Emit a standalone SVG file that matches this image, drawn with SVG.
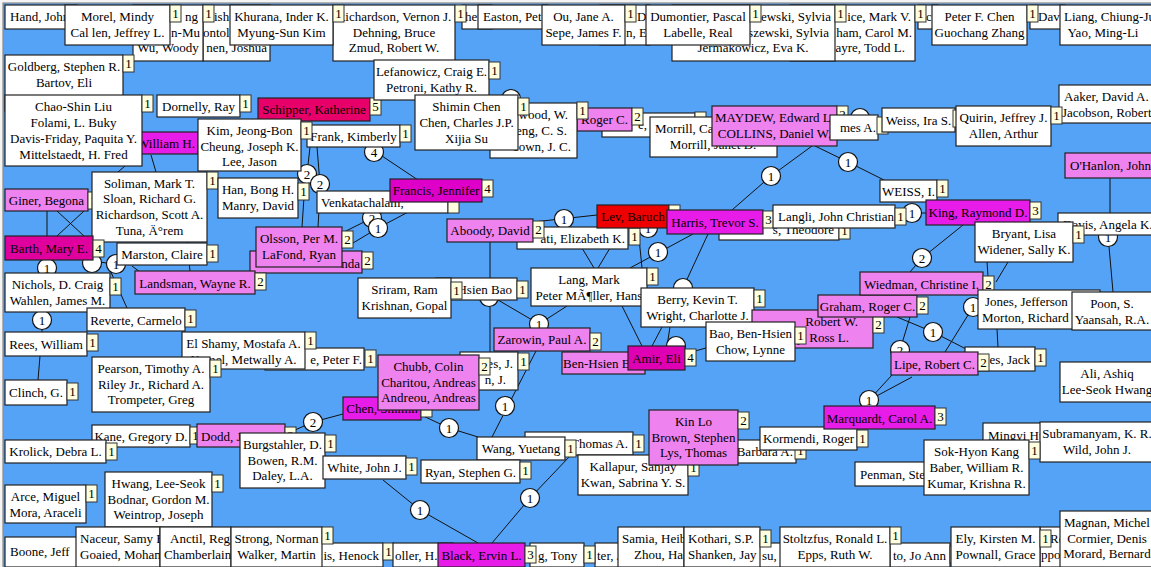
<svg xmlns="http://www.w3.org/2000/svg" width="1151" height="567" viewBox="0 0 1151 567">
<style>
.n rect{fill:#fff;stroke:#222;stroke-width:1.2}
.n rect.p{fill:#ee82ee}
.n rect.m{fill:#e81ce8}
.n rect.s{fill:#e8006a}
.n rect.r{fill:#ee0000}
.n rect.bm{fill:#e0009e}
.n rect.fr{fill:#de00c8}
.n rect.am{fill:#e000b4}
.n rect.bd{fill:#ffffe0;stroke:#333;stroke-width:1}
text{font-family:"Liberation Serif","Times New Roman",serif;font-size:13px;fill:#000}
.c{text-anchor:middle}
.e{text-anchor:end}
#edges line,#edges polyline{stroke:#111;stroke-width:1;fill:none}
#edges circle{fill:#fff;stroke:#111;stroke-width:1.2}
</style>
<rect x="0" y="0" width="1151" height="567" fill="#f4f4f4"/>
<rect x="3" y="3" width="1160" height="570" fill="#55a3f6" stroke="#8a8a8a" stroke-width="1.2"/>

<g id="edges">
<line x1="125" y1="166" x2="118" y2="172"/>
<line x1="151" y1="155" x2="156" y2="172"/>
<line x1="47" y1="211" x2="47" y2="236"/>
<line x1="57" y1="211" x2="84" y2="236"/>
<line x1="84" y1="211" x2="57" y2="236"/>
<line x1="47" y1="260" x2="47" y2="273"/>
<line x1="42" y1="312" x2="42" y2="332"/>
<line x1="40" y1="356" x2="38" y2="380"/>
<line x1="100" y1="262" x2="125" y2="266"/>
<line x1="110" y1="270" x2="127" y2="308"/>
<line x1="132" y1="266" x2="140" y2="272"/>
<line x1="187" y1="242" x2="190" y2="271"/>
<line x1="310" y1="147" x2="307" y2="174"/>
<line x1="317" y1="147" x2="320" y2="184"/>
<line x1="305" y1="182" x2="302" y2="227"/>
<line x1="320" y1="192" x2="318" y2="227"/>
<polyline points="342,233 372,218 405,200"/>
<polyline points="348,246 378,228 412,210"/>
<line x1="370" y1="148" x2="418" y2="180"/>
<line x1="490" y1="242" x2="490" y2="352"/>
<polyline points="498,300 539,324 567,306"/>
<line x1="533" y1="222" x2="597" y2="215"/>
<line x1="582" y1="248" x2="594" y2="268"/>
<line x1="610" y1="248" x2="598" y2="268"/>
<line x1="638" y1="228" x2="642" y2="268"/>
<line x1="630" y1="268" x2="693" y2="234"/>
<line x1="708" y1="234" x2="683" y2="288"/>
<polyline points="732,210 771,176 812,146"/>
<polyline points="815,146 848,162 884,180"/>
<line x1="622" y1="306" x2="642" y2="346"/>
<line x1="662" y1="327" x2="652" y2="346"/>
<line x1="670" y1="327" x2="667" y2="346"/>
<line x1="695" y1="351" x2="706" y2="348"/>
<line x1="536" y1="351" x2="492" y2="437"/>
<polyline points="421,415 449,428 478,437"/>
<polyline points="343,414 313,422 295,430"/>
<polyline points="383,480 420,510 478,543"/>
<polyline points="492,543 530,498 570,456"/>
<polyline points="897,317 933,332 968,350"/>
<line x1="910" y1="317" x2="900" y2="350"/>
<polyline points="945,352 973,307 985,295"/>
<polyline points="963,225 922,258 910,272"/>
<line x1="987" y1="262" x2="989" y2="290"/>
<line x1="1008" y1="262" x2="996" y2="282"/>
<line x1="997" y1="329" x2="998" y2="347"/>
<line x1="1110" y1="178" x2="1110" y2="213"/>
<line x1="1108" y1="235" x2="1113" y2="292"/>
<line x1="869" y1="400" x2="892" y2="375"/>
<line x1="871" y1="399" x2="912" y2="377"/>
<line x1="869" y1="400" x2="869" y2="406"/>
<line x1="906" y1="213" x2="926" y2="213"/>
<circle cx="511" cy="99" r="9.5"/>
<circle cx="307" cy="174" r="9.5"/><text class="c" x="307" y="178.5">2</text>
<circle cx="320" cy="184" r="9.5"/><text class="c" x="320" y="188.5">2</text>
<circle cx="374" cy="152" r="9.5"/><text class="c" x="374" y="156.5">4</text>
<circle cx="372" cy="218" r="9.5"/><text class="c" x="372" y="222.5">2</text>
<circle cx="378" cy="228" r="9.5"/><text class="c" x="378" y="232.5">1</text>
<circle cx="47" cy="268" r="9.5"/><text class="c" x="47" y="272.5">1</text>
<circle cx="92" cy="263" r="9.5"/>
<circle cx="116" cy="264" r="9.5"/><text class="c" x="116" y="268.5">1</text>
<circle cx="42" cy="320" r="9.5"/><text class="c" x="42" y="324.5">1</text>
<circle cx="564" cy="219" r="9.5"/><text class="c" x="564" y="223.5">1</text>
<circle cx="648" cy="228" r="9.5"/><text class="c" x="648" y="232.5">1</text>
<circle cx="658" cy="252" r="9.5"/><text class="c" x="658" y="256.5">1</text>
<circle cx="683" cy="288" r="9.5"/>
<circle cx="676" cy="346" r="9.5"/>
<circle cx="771" cy="176" r="9.5"/><text class="c" x="771" y="180.5">1</text>
<circle cx="848" cy="162" r="9.5"/><text class="c" x="848" y="166.5">1</text>
<circle cx="860" cy="118" r="9.5"/>
<circle cx="489" cy="297" r="9.5"/>
<circle cx="539" cy="324" r="9.5"/><text class="c" x="539" y="328.5">1</text>
<circle cx="505" cy="406" r="9.5"/><text class="c" x="505" y="410.5">1</text>
<circle cx="449" cy="428" r="9.5"/><text class="c" x="449" y="432.5">1</text>
<circle cx="313" cy="422" r="9.5"/><text class="c" x="313" y="426.5">2</text>
<circle cx="420" cy="510" r="9.5"/><text class="c" x="420" y="514.5">1</text>
<circle cx="530" cy="498" r="9.5"/><text class="c" x="530" y="502.5">1</text>
<circle cx="912" cy="213" r="9.5"/><text class="c" x="912" y="217.5">1</text>
<circle cx="922" cy="258" r="9.5"/><text class="c" x="922" y="262.5">2</text>
<circle cx="933" cy="332" r="9.5"/><text class="c" x="933" y="336.5">1</text>
<circle cx="973" cy="307" r="9.5"/><text class="c" x="973" y="311.5">1</text>
<circle cx="900" cy="350" r="9.5"/><text class="c" x="900" y="354.5">2</text>
<circle cx="869" cy="400" r="9.5"/><text class="c" x="869" y="404.5">1</text>
<circle cx="1108" cy="237" r="9.5"/><text class="c" x="1108" y="241.5">1</text>
</g>

<g class="n">
<g id="hand"><rect x="5" y="5" width="72" height="24"/><text x="10" y="21">Hand, John</text></g>
<g id="n-joshua"><rect x="203" y="5" width="67" height="56"/><text x="214" y="21">ish</text><text x="203" y="37">ontol</text><text class="e" x="267" y="52">nen, Joshua</text></g>
<g id="n-woody"><rect x="133" y="5" width="70" height="56"/><text class="e" x="198" y="21">ng</text><text class="e" x="200" y="37">n-Mu</text><text class="c" x="168" y="52">Wu, Woody</text><rect class="bd" x="203" y="5" width="11" height="17"/><text class="c" x="208.5" y="18">1</text></g>
<g id="morel"><rect x="65" y="5" width="105" height="40"/><text class="c" x="117.5" y="21">Morel, Mindy</text><text class="c" x="117.5" y="37">Cal len, Jeffrey L.</text><rect class="bd" x="170" y="5" width="11" height="17"/><text class="c" x="175.5" y="18">1</text></g>
<g id="her"><rect x="462" y="5" width="30" height="24"/><text x="465" y="21">her</text></g>
<g id="richardson"><rect x="333" y="5" width="122" height="56"/><text class="c" x="394" y="21">Richardson, Vernon J.</text><text class="c" x="394" y="37">Dehning, Bruce</text><text class="c" x="394" y="52">Zmud, Robert W.</text><rect class="bd" x="455" y="5" width="11" height="17"/><text class="c" x="460.5" y="18">1</text></g>
<g id="khurana"><rect x="230" y="5" width="103" height="40"/><text class="c" x="281.5" y="21">Khurana, Inder K.</text><text class="c" x="281.5" y="37">Myung-Sun Kim</text><rect class="bd" x="333" y="5" width="11" height="17"/><text class="c" x="338.5" y="18">1</text></g>
<g id="easton"><rect x="478" y="5" width="70" height="24"/><text x="483" y="21">Easton, Pet</text></g>
<g id="n-d"><rect x="600" y="5" width="50" height="40"/><text x="637" y="21">D</text><text x="626" y="37">n, E</text></g>
<g id="ou"><rect x="542" y="5" width="83" height="40"/><text class="c" x="583.5" y="21">Ou, Jane A.</text><text class="c" x="583.5" y="37">Sepe, James F.</text><rect class="bd" x="625" y="5" width="11" height="17"/><text class="c" x="630.5" y="18">1</text></g>
<g id="n-c"><rect x="918" y="5" width="20" height="24"/><text x="926" y="21">c</text></g>
<g id="n-mark"><rect x="790" y="5" width="125" height="56"/><text class="e" x="911" y="21">ice, Mark V.</text><text class="e" x="912" y="37">ham, Carol M.</text><text class="e" x="905" y="52">ayre, Todd L.</text><rect class="bd" x="915" y="5" width="11" height="17"/><text class="c" x="920.5" y="18">1</text></g>
<g id="n-sylvia"><rect x="672" y="5" width="163" height="56"/><text class="e" x="831" y="21">zewski, Sylvia</text><text class="e" x="829" y="37">szewski, Sylvia</text><text class="c" x="753" y="52">Jermakowicz, Eva K.</text><rect class="bd" x="835" y="5" width="11" height="17"/><text class="c" x="840.5" y="18">1</text></g>
<g id="dumontier"><rect x="646" y="5" width="104" height="40"/><text class="c" x="698" y="21">Dumontier, Pascal</text><text class="c" x="698" y="37">Labelle, Real</text><rect class="bd" x="750" y="5" width="11" height="17"/><text class="c" x="755.5" y="18">1</text></g>
<g id="davi"><rect x="1030" y="5" width="35" height="24"/><text x="1038" y="21">Davi</text></g>
<g id="peterchen"><rect x="932" y="5" width="95" height="40"/><text class="c" x="979.5" y="21">Peter F. Chen</text><text class="c" x="979.5" y="37">Guochang Zhang</text><rect class="bd" x="1027" y="5" width="11" height="17"/><text class="c" x="1032.5" y="18">1</text></g>
<g id="liang"><rect x="1060" y="5" width="100" height="40"/><text x="1064" y="21">Liang, Chiung-Ju</text><text class="c" x="1103" y="37">Yao, Ming-Li</text></g>

<g id="goldberg"><rect x="5" y="55" width="118" height="56"/><text class="c" x="64" y="71">Goldberg, Stephen R.</text><text class="c" x="64" y="87">Bartov, Eli</text><rect class="bd" x="123" y="55" width="11" height="17"/><text class="c" x="128.5" y="68">1</text></g>
<g id="william"><rect class="m" x="100" y="132" width="98" height="22"/><text class="e" x="195" y="148">William H.</text></g>
<g id="chao"><rect x="5" y="95" width="137" height="71"/><text class="c" x="73.5" y="111">Chao-Shin Liu</text><text class="c" x="73.5" y="127">Folami, L. Buky</text><text class="c" x="73.5" y="143">Davis-Friday, Paquita Y.</text><text class="c" x="73.5" y="159">Mittelstaedt, H. Fred</text><rect class="bd" x="142" y="95" width="11" height="17"/><text class="c" x="147.5" y="108">1</text></g>
<g id="dornelly"><rect x="157" y="95" width="83" height="22"/><text class="c" x="198.5" y="111">Dornelly, Ray</text><rect class="bd" x="240" y="95" width="11" height="17"/><text class="c" x="245.5" y="108">1</text></g>
<g id="schipper"><rect class="s" x="258" y="98" width="112" height="23"/><text class="c" x="314" y="114">Schipper, Katherine</text><rect class="bd" x="370" y="98" width="11" height="17"/><text class="c" x="375.5" y="111">5</text></g>
<g id="frank"><rect x="307" y="125" width="93" height="22"/><text class="c" x="353.5" y="141">Frank, Kimberly</text><rect class="bd" x="400" y="125" width="11" height="17"/><text class="c" x="405.5" y="138">1</text></g>
<g id="kim"><rect x="198" y="119" width="103" height="52"/><text class="c" x="249.5" y="135">Kim, Jeong-Bon</text><text class="c" x="249.5" y="151">Cheung, Joseph K.</text><text class="c" x="249.5" y="166">Lee, Jason</text><rect class="bd" x="301" y="122" width="11" height="17"/><text class="c" x="306.5" y="135">1</text></g>
<g id="lefanowicz"><rect x="374" y="60" width="115" height="40"/><text class="c" x="431.5" y="76">Lefanowicz, Craig E.</text><text class="c" x="431.5" y="92">Petroni, Kathy R.</text><rect class="bd" x="489" y="62" width="11" height="17"/><text class="c" x="494.5" y="75">1</text></g>
<g id="n-e"><rect x="602" y="113" width="93" height="24"/><text x="638" y="129">e,</text><rect class="bd" x="695" y="112" width="11" height="17"/></g>
<g id="rogerc"><rect class="p" x="577" y="108" width="55" height="23"/><text class="e" x="628" y="124">Roger C.</text><rect class="bd" x="632" y="108" width="11" height="17"/><text class="c" x="637.5" y="121">2</text></g>
<g id="wood"><rect x="490" y="103" width="87" height="55"/><text class="e" x="568" y="119">wood, W.</text><text class="e" x="567" y="135">eng, C. S.</text><text class="e" x="571" y="151">eown, J. C.</text><rect class="bd" x="577" y="102" width="11" height="17"/><text class="c" x="582.5" y="115">1</text></g>
<g id="shimin"><rect x="415" y="95" width="103" height="55"/><text class="c" x="466.5" y="111">Shimin Chen</text><text class="c" x="466.5" y="127">Chen, Charles J.P.</text><text class="c" x="466.5" y="143">Xijia Su</text><rect class="bd" x="518" y="98" width="11" height="17"/><text class="c" x="523.5" y="111">1</text></g>
<g id="morrill"><rect x="650" y="117" width="127" height="40"/><text x="655" y="133">Morrill, Ca</text><text class="c" x="713" y="149">Morrill, Janet D.</text></g>
<g id="maydew"><rect class="p" x="712" y="106" width="125" height="40"/><text class="c" x="774.5" y="122">MAYDEW, Edward L.</text><text class="c" x="774.5" y="138">COLLINS, Daniel W.</text><rect class="bd" x="837" y="106" width="11" height="17"/><text class="c" x="842.5" y="119">2</text></g>
<g id="jamesa"><rect x="830" y="115" width="48" height="25"/><text class="e" x="876" y="132">mes A.</text><rect class="bd" x="877" y="117" width="11" height="17"/></g>
<g id="weiss-ira"><rect x="882" y="108" width="73" height="24"/><text class="c" x="918.5" y="125">Weiss, Ira S.</text><rect class="bd" x="953" y="110" width="11" height="17"/></g>
<g id="aaker"><rect x="1059" y="85" width="95" height="38"/><text x="1064" y="101">Aaker, David A.</text><text x="1062" y="117">Jacobson, Robert</text></g>
<g id="quirin"><rect x="956" y="106" width="95" height="40"/><text class="c" x="1003.5" y="122">Quirin, Jeffrey J.</text><text class="c" x="1003.5" y="138">Allen, Arthur</text><rect class="bd" x="1051" y="107" width="11" height="17"/><text class="c" x="1056.5" y="120">1</text></g>
<g id="ohanlon"><rect class="p" x="1065" y="153" width="92" height="25"/><text x="1070" y="170">O'Hanlon, John</text></g>
<g id="weiss-i"><rect x="880" y="180" width="57" height="22"/><text class="c" x="908.5" y="196">WEISS, I.</text><rect class="bd" x="937" y="180" width="11" height="17"/><text class="c" x="942.5" y="193">1</text></g>

<g id="giner"><rect class="p" x="5" y="189" width="83" height="22"/><text class="c" x="46.5" y="205">Giner, Begona</text><rect class="bd" x="88" y="192" width="11" height="17"/><text class="c" x="93.5" y="205">1</text></g>
<g id="soliman"><rect x="92" y="172" width="115" height="70"/><text class="c" x="149.5" y="188">Soliman, Mark T.</text><text class="c" x="149.5" y="203">Sloan, Richard G.</text><text class="c" x="149.5" y="219">Richardson, Scott A.</text><text class="c" x="149.5" y="235">Tuna, Ä°rem</text><rect class="bd" x="207" y="172" width="11" height="17"/><text class="c" x="212.5" y="185">1</text></g>
<g id="han"><rect x="218" y="178" width="80" height="40"/><text class="c" x="258" y="194">Han, Bong H.</text><text class="c" x="258" y="210">Manry, David</text><rect class="bd" x="298" y="183" width="11" height="17"/><text class="c" x="303.5" y="196">1</text></g>
<g id="venkatachalam"><rect x="317" y="191" width="131" height="22"/><text x="321" y="207">Venkatachalam,</text><rect class="bd" x="448" y="196" width="11" height="17"/></g>
<g id="francis"><rect class="fr" x="390" y="179" width="92" height="23"/><text class="c" x="436" y="195">Francis, Jennifer</text><rect class="bd" x="482" y="180" width="11" height="17"/><text class="c" x="487.5" y="193">4</text></g>
<g id="barth"><rect class="bm" x="5" y="236" width="88" height="24"/><text class="c" x="49" y="253">Barth, Mary E.</text><rect class="bd" x="93" y="240" width="11" height="17"/><text class="c" x="98.5" y="253">4</text></g>
<g id="marston"><rect x="117" y="243" width="90" height="22"/><text class="c" x="162" y="259">Marston, Claire</text><rect class="bd" x="207" y="245" width="11" height="17"/><text class="c" x="212.5" y="258">1</text></g>
<g id="n-nda"><rect class="p" x="250" y="251" width="112" height="22"/><text class="e" x="360" y="268">nda</text><rect class="bd" x="362" y="252" width="11" height="17"/><text class="c" x="367.5" y="265">2</text></g>
<g id="olsson"><rect class="p" x="256" y="227" width="86" height="40"/><text class="c" x="299" y="243">Olsson, Per M.</text><text class="c" x="299" y="259">LaFond, Ryan</text><rect class="bd" x="342" y="231" width="11" height="17"/><text class="c" x="347.5" y="244">2</text></g>
<g id="landsman"><rect class="p" x="135" y="271" width="120" height="23"/><text class="c" x="195" y="288">Landsman, Wayne R.</text><rect class="bd" x="255" y="273" width="11" height="17"/><text class="c" x="260.5" y="286">2</text></g>
<g id="nichols"><rect x="5" y="273" width="105" height="39"/><text class="c" x="57.5" y="289">Nichols, D. Craig</text><text class="c" x="57.5" y="305">Wahlen, James M.</text><rect class="bd" x="110" y="278" width="11" height="17"/><text class="c" x="115.5" y="291">1</text></g>
<g id="reverte"><rect x="87" y="308" width="98" height="23"/><text class="c" x="136" y="325">Reverte, Carmelo</text><rect class="bd" x="185" y="310" width="11" height="17"/><text class="c" x="190.5" y="323">1</text></g>
<g id="rees"><rect x="5" y="332" width="82" height="24"/><text class="c" x="46" y="349">Rees, William</text><rect class="bd" x="87" y="334" width="11" height="17"/><text class="c" x="92.5" y="347">1</text></g>
<g id="peterf"><rect x="265" y="348" width="99" height="22"/><text class="e" x="362" y="364">e, Peter F.</text><rect class="bd" x="365" y="350" width="11" height="17"/><text class="c" x="370.5" y="363">1</text></g>
<g id="elshamy"><rect x="182" y="332" width="123" height="37"/><text class="c" x="243.5" y="348">El Shamy, Mostafa A.</text><text class="c" x="243.5" y="364">Kamel, Metwally A.</text><rect class="bd" x="305" y="332" width="11" height="17"/><text class="c" x="310.5" y="345">1</text></g>
<g id="pearson"><rect x="92" y="357" width="118" height="55"/><text class="c" x="151" y="373">Pearson, Timothy A.</text><text class="c" x="151" y="389">Riley Jr., Richard A.</text><text class="c" x="151" y="404">Trompeter, Greg</text><rect class="bd" x="210" y="360" width="11" height="17"/><text class="c" x="215.5" y="373">1</text></g>
<g id="clinch"><rect x="5" y="380" width="62" height="25"/><text class="c" x="36" y="397">Clinch, G.</text><rect class="bd" x="67" y="383" width="11" height="17"/><text class="c" x="72.5" y="396">1</text></g>

<g id="hsienbao"><rect x="436" y="278" width="81" height="22"/><text class="e" x="512" y="294">Hsien Bao</text><rect class="bd" x="517" y="281" width="11" height="17"/><text class="c" x="522.5" y="294">1</text></g>
<g id="sriram"><rect x="358" y="278" width="93" height="40"/><text class="c" x="404.5" y="294">Sriram, Ram</text><text class="c" x="404.5" y="310">Krishnan, Gopal</text><rect class="bd" x="451" y="282" width="11" height="17"/><text class="c" x="456.5" y="295">1</text></g>
<g id="elizabeth"><rect x="517" y="227" width="111" height="22"/><text class="e" x="625" y="243">ati, Elizabeth K.</text><rect class="bd" x="629" y="228" width="11" height="17"/><text class="c" x="634.5" y="241">1</text></g>
<g id="aboody"><rect class="p" x="447" y="219" width="86" height="23"/><text class="c" x="490" y="235">Aboody, David</text><rect class="bd" x="533" y="221" width="11" height="17"/><text class="c" x="538.5" y="234">2</text></g>
<g id="lev"><rect class="r" x="597" y="205" width="72" height="23"/><text class="c" x="633" y="221">Lev, Baruch</text><rect class="bd" x="669" y="205" width="11" height="17"/></g>
<g id="theodore"><rect x="719" y="218" width="120" height="22"/><text class="e" x="834" y="234">s, Theodore</text><rect class="bd" x="839" y="222" width="11" height="17"/><text class="c" x="844.5" y="235">1</text></g>
<g id="harris"><rect class="m" x="667" y="210" width="96" height="24"/><text class="c" x="715" y="227">Harris, Trevor S.</text><rect class="bd" x="763" y="211" width="11" height="17"/><text class="c" x="768.5" y="224">3</text></g>
<g id="langli"><rect x="773" y="205" width="122" height="23"/><text x="778" y="221">Langli, John Christian</text><rect class="bd" x="895" y="208" width="11" height="17"/><text class="c" x="900.5" y="221">1</text></g>
<g id="king"><rect class="m" x="926" y="200" width="104" height="25"/><text class="c" x="978" y="217">King, Raymond D.</text><rect class="bd" x="1030" y="202" width="11" height="17"/><text class="c" x="1035.5" y="215">3</text></g>
<g id="lang"><rect x="531" y="268" width="116" height="38"/><text class="c" x="589" y="284">Lang, Mark</text><text class="c" x="589" y="300">Peter MÃ¶ller, Hans</text><rect class="bd" x="647" y="268" width="11" height="17"/><text class="c" x="652.5" y="281">1</text></g>
<g id="berry"><rect x="641" y="288" width="113" height="39"/><text class="c" x="697.5" y="304">Berry, Kevin T.</text><text class="c" x="697.5" y="320">Wright, Charlotte J.</text><rect class="bd" x="754" y="290" width="11" height="17"/><text class="c" x="759.5" y="303">1</text></g>
<g id="robertw"><rect class="p" x="752" y="310" width="121" height="38"/><text class="e" x="858" y="326">Robert W.</text><text class="e" x="849" y="342">y, Ross L.</text><rect class="bd" x="873" y="316" width="11" height="17"/><text class="c" x="878.5" y="329">2</text></g>
<g id="graham"><rect class="p" x="818" y="295" width="99" height="22"/><text class="c" x="867.5" y="311">Graham, Roger C.</text><rect class="bd" x="917" y="297" width="11" height="17"/><text class="c" x="922.5" y="310">2</text></g>
<g id="bao"><rect x="706" y="322" width="89" height="39"/><text class="c" x="750.5" y="338">Bao, Ben-Hsien</text><text class="c" x="750.5" y="354">Chow, Lynne</text><rect class="bd" x="795" y="327" width="11" height="17"/><text class="c" x="800.5" y="340">1</text></g>
<g id="benhsien"><rect class="p" x="562" y="352" width="83" height="22"/><text x="563" y="368">Ben-Hsien B</text></g>
<g id="amir"><rect class="am" x="628" y="346" width="57" height="24"/><text class="c" x="656.5" y="363">Amir, Eli</text><rect class="bd" x="685" y="349" width="11" height="17"/><text class="c" x="690.5" y="362">4</text></g>
<g id="zarowin"><rect class="p" x="494" y="328" width="96" height="23"/><text class="c" x="542" y="344">Zarowin, Paul A.</text><rect class="bd" x="590" y="333" width="11" height="17"/><text class="c" x="595.5" y="346">2</text></g>
<g id="n-esj"><rect x="460" y="352" width="58" height="38"/><text class="e" x="513" y="368">es, J.</text><text class="e" x="506" y="384">n, J.</text><rect class="bd" x="518" y="353" width="11" height="17"/><text class="c" x="523.5" y="366">1</text></g>
<g id="chen"><rect class="m" x="343" y="397" width="78" height="23"/><text class="c" x="382" y="413">Chen, Shimin</text><rect class="bd" x="421" y="400" width="11" height="17"/></g>
<g id="chubb"><rect class="p" x="378" y="355" width="101" height="55"/><text class="c" x="428.5" y="371">Chubb, Colin</text><text class="c" x="428.5" y="387">Charitou, Andreas</text><text class="c" x="428.5" y="402">Andreou, Andreas</text><rect class="bd" x="479" y="358" width="11" height="17"/><text class="c" x="484.5" y="371">2</text></g>
<g id="kane"><rect x="92" y="425" width="98" height="22"/><text class="c" x="141" y="441">Kane, Gregory D.</text><rect class="bd" x="190" y="427" width="11" height="17"/><text class="c" x="195.5" y="440">1</text></g>
<g id="dodd"><rect class="p" x="197" y="424" width="88" height="23"/><text x="201" y="441">Dodd, J</text><rect class="bd" x="285" y="427" width="11" height="17"/><text class="c" x="290.5" y="440">2</text></g>
<g id="krolick"><rect x="5" y="440" width="101" height="23"/><text class="c" x="55.5" y="456">Krolick, Debra L.</text><rect class="bd" x="106" y="443" width="11" height="17"/><text class="c" x="111.5" y="456">1</text></g>
<g id="burgstahler"><rect x="240" y="433" width="85" height="55"/><text class="c" x="282.5" y="449">Burgstahler, D.</text><text class="c" x="282.5" y="465">Bowen, R.M.</text><text class="c" x="282.5" y="480">Daley, L.A.</text><rect class="bd" x="325" y="435" width="11" height="17"/><text class="c" x="330.5" y="448">1</text></g>
<g id="white"><rect x="323" y="456" width="83" height="23"/><text class="c" x="364.5" y="472">White, John J.</text><rect class="bd" x="406" y="458" width="11" height="17"/><text class="c" x="411.5" y="471">1</text></g>
<g id="thomas"><rect x="525" y="432" width="108" height="23"/><text class="e" x="628" y="448">Thomas A.</text><rect class="bd" x="633" y="435" width="11" height="17"/><text class="c" x="638.5" y="448">1</text></g>
<g id="wang"><rect x="477" y="437" width="88" height="23"/><text class="c" x="521" y="453">Wang, Yuetang</text><rect class="bd" x="565" y="440" width="11" height="17"/><text class="c" x="570.5" y="453">1</text></g>
<g id="ryan"><rect x="421" y="460" width="99" height="23"/><text class="c" x="470.5" y="477">Ryan, Stephen G.</text><rect class="bd" x="520" y="462" width="11" height="17"/><text class="c" x="525.5" y="475">1</text></g>
<g id="kallapur"><rect x="578" y="455" width="110" height="40"/><text class="c" x="633" y="471">Kallapur, Sanjay</text><text class="c" x="633" y="487">Kwan, Sabrina Y. S.</text><rect class="bd" x="688" y="459" width="11" height="17"/><text class="c" x="693.5" y="472">1</text></g>
<g id="barbara"><rect x="700" y="440" width="96" height="23"/><text class="e" x="793" y="456">Barbara A.</text><rect class="bd" x="795" y="442" width="11" height="17"/><text class="c" x="800.5" y="455">1</text></g>
<g id="kinlo"><rect class="p" x="649" y="410" width="89" height="55"/><text class="c" x="693.5" y="426">Kin Lo</text><text class="c" x="693.5" y="442">Brown, Stephen</text><text class="c" x="693.5" y="457">Lys, Thomas</text><rect class="bd" x="738" y="412" width="11" height="17"/><text class="c" x="743.5" y="425">2</text></g>
<g id="kormendi"><rect x="760" y="427" width="97" height="23"/><text class="c" x="808.5" y="443">Kormendi, Roger</text><rect class="bd" x="857" y="430" width="11" height="17"/><text class="c" x="862.5" y="443">1</text></g>
<g id="marquardt"><rect class="m" x="824" y="406" width="111" height="23"/><text class="c" x="879.5" y="423">Marquardt, Carol A.</text><rect class="bd" x="935" y="408" width="11" height="17"/><text class="c" x="940.5" y="421">3</text></g>

<g id="wiedman"><rect class="p" x="860" y="272" width="123" height="23"/><text class="c" x="921.5" y="289">Wiedman, Christine I.</text><rect class="bd" x="983" y="276" width="11" height="17"/><text class="c" x="988.5" y="289">2</text></g>
<g id="davis"><rect x="1058" y="213" width="97" height="22"/><text x="1063" y="229">Davis, Angela K.</text></g>
<g id="bryant"><rect x="975" y="222" width="98" height="40"/><text class="c" x="1024" y="238">Bryant, Lisa</text><text class="c" x="1024" y="254">Widener, Sally K.</text><rect class="bd" x="1073" y="226" width="11" height="17"/><text class="c" x="1078.5" y="239">1</text></g>
<g id="jones"><rect x="978" y="290" width="122" height="39"/><text x="985" y="306">Jones, Jefferson</text><text x="982" y="322">Morton, Richard</text></g>
<g id="poon"><rect x="1072" y="292" width="82" height="38"/><text class="c" x="1112" y="308">Poon, S.</text><text class="c" x="1112" y="324">Yaansah, R.A.</text></g>
<g id="jack"><rect x="965" y="347" width="70" height="24"/><text class="e" x="1030" y="364">es, Jack</text><rect class="bd" x="1035" y="349" width="11" height="17"/><text class="c" x="1040.5" y="362">1</text></g>
<g id="lipe"><rect class="p" x="891" y="352" width="87" height="23"/><text class="c" x="934.5" y="369">Lipe, Robert C.</text><rect class="bd" x="978" y="354" width="11" height="17"/><text class="c" x="983.5" y="367">2</text></g>
<g id="ali"><rect x="1060" y="362" width="95" height="40"/><text class="c" x="1107" y="378">Ali, Ashiq</text><text class="c" x="1107" y="394">Lee-Seok Hwang</text></g>
<g id="mingyi"><rect x="983" y="423" width="70" height="24"/><text x="988" y="440">Mingyi Hu</text></g>
<g id="subramanyam"><rect x="1040" y="422" width="114" height="40"/><text class="c" x="1097" y="438">Subramanyam, K. R.</text><text class="c" x="1097" y="454">Wild, John J.</text></g>
<g id="penman"><rect x="855" y="462" width="72" height="24"/><text x="860" y="479">Penman, Ste</text></g>
<g id="sokhyon"><rect x="924" y="440" width="105" height="55"/><text class="c" x="976.5" y="456">Sok-Hyon Kang</text><text class="c" x="976.5" y="472">Baber, William R.</text><text class="c" x="976.5" y="488">Kumar, Krishna R.</text><rect class="bd" x="1029" y="442" width="11" height="17"/><text class="c" x="1034.5" y="455">1</text></g>
<g id="hwang"><rect x="105" y="472" width="107" height="55"/><text class="c" x="158.5" y="488">Hwang, Lee-Seok</text><text class="c" x="158.5" y="504">Bodnar, Gordon M.</text><text class="c" x="158.5" y="519">Weintrop, Joseph</text><rect class="bd" x="212" y="475" width="11" height="17"/><text class="c" x="217.5" y="488">1</text></g>
<g id="arce"><rect x="5" y="485" width="81" height="38"/><text class="c" x="45.5" y="501">Arce, Miguel</text><text class="c" x="45.5" y="517">Mora, Araceli</text><rect class="bd" x="86" y="485" width="11" height="17"/><text class="c" x="91.5" y="498">1</text></g>

<g id="boone"><rect x="5" y="537" width="76" height="30"/><text x="10" y="556">Boone, Jeff</text></g>
<g id="naceur"><rect x="76" y="527" width="84" height="40"/><text x="80" y="543">Naceur, Samy B</text><text x="80" y="559">Goaied, Moham</text></g>
<g id="anctil"><rect x="160" y="527" width="71" height="40"/><text x="170" y="543">Anctil, Reg</text><text x="164" y="559">Chamberlain,</text></g>
<g id="henock"><rect x="300" y="543" width="83" height="24"/><text class="e" x="379" y="560">is, Henock</text><rect class="bd" x="383" y="543" width="11" height="17"/><text class="c" x="388.5" y="556">1</text></g>
<g id="strong"><rect x="231" y="527" width="91" height="40"/><text class="c" x="276.5" y="543">Strong, Norman</text><text class="c" x="276.5" y="559">Walker, Martin</text><rect class="bd" x="322" y="527" width="11" height="17"/><text class="c" x="327.5" y="540">1</text></g>
<g id="oller"><rect x="393" y="543" width="60" height="24"/><text x="395" y="560">oller, H.E.</text></g>
<g id="n-ter"><rect x="595" y="543" width="30" height="24"/><text x="597" y="560">ter, J</text></g>
<g id="tony"><rect x="530" y="543" width="54" height="24"/><text x="538" y="560">g, Tony</text><rect class="bd" x="584" y="546" width="11" height="17"/><text class="c" x="589.5" y="559">1</text></g>
<g id="black"><rect class="m" x="438" y="543" width="87" height="24"/><text class="c" x="481.5" y="560">Black, Ervin L.</text><rect class="bd" x="525" y="546" width="11" height="17"/><text class="c" x="530.5" y="559">3</text></g>
<g id="samia"><rect x="618" y="527" width="66" height="40"/><text x="622" y="543">Samia, Heib.</text><text x="634" y="559">Zhou, Ha</text></g>
<g id="n-su"><rect x="758" y="543" width="25" height="24"/><text x="762" y="560">su,</text></g>
<g id="kothari"><rect x="684" y="527" width="76" height="40"/><text x="688" y="543">Kothari, S.P.</text><text x="688" y="559">Shanken, Jay</text><rect class="bd" x="760" y="530" width="11" height="17"/><text class="c" x="765.5" y="543">1</text></g>
<g id="jo-ann"><rect x="890" y="543" width="60" height="24"/><text x="893" y="560">to, Jo Ann</text><rect class="bd" x="950" y="546" width="11" height="17"/></g>
<g id="stoltzfus"><rect x="780" y="527" width="110" height="40"/><text class="c" x="835" y="543">Stoltzfus, Ronald L.</text><text class="c" x="835" y="559">Epps, Ruth W.</text><rect class="bd" x="890" y="527" width="11" height="17"/><text class="c" x="895.5" y="540">1</text></g>
<g id="n-ro"><rect x="1040" y="527" width="25" height="40"/><text x="1050" y="543">Ro</text><text x="1041" y="559">ppo,</text></g>
<g id="ely"><rect x="951" y="527" width="89" height="40"/><text class="c" x="995.5" y="543">Ely, Kirsten M.</text><text class="c" x="995.5" y="559">Pownall, Grace</text><rect class="bd" x="1040" y="530" width="11" height="17"/><text class="c" x="1045.5" y="543">1</text></g>
<g id="magnan"><rect x="1060" y="511" width="95" height="56"/><text class="c" x="1107" y="527">Magnan, Michel</text><text class="c" x="1107" y="543">Cormier, Denis</text><text class="c" x="1107" y="558">Morard, Bernard</text></g>
</g>
</svg>
